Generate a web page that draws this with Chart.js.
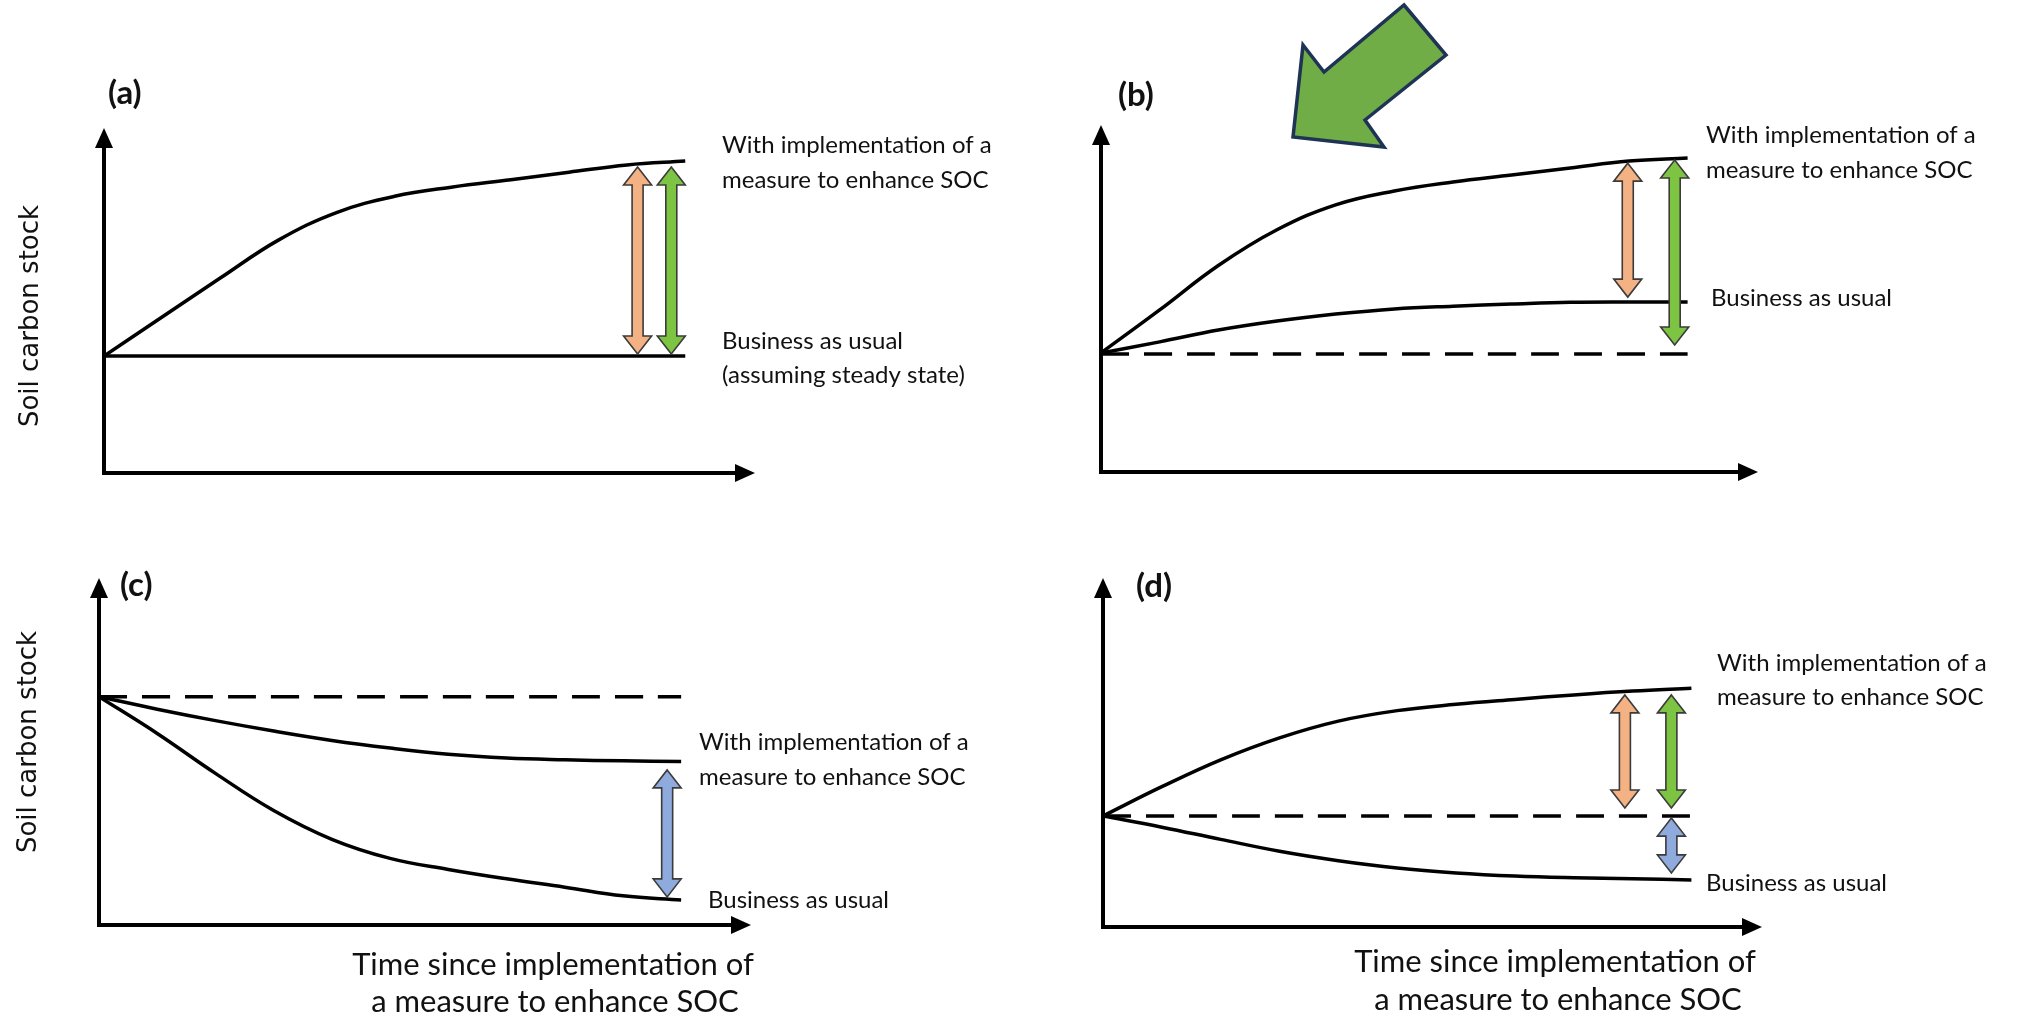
<!DOCTYPE html>
<html>
<head>
<meta charset="utf-8">
<title>Soil carbon stock scenarios</title>
<script src="https://cdn.jsdelivr.net/npm/chart.js@4.4.1/dist/chart.umd.min.js"></script>
<style>
  body { margin: 0; background: #fff; }
  #wrap { position: relative; width: 2033px; height: 1019px; }
  #wrap canvas { position: absolute; left: 0; top: 0; }
</style>
</head>
<body>
<div id="wrap">
  <canvas id="panelA" width="2033" height="1019"></canvas>
  <canvas id="panelB" width="2033" height="1019"></canvas>
  <canvas id="panelC" width="2033" height="1019"></canvas>
  <canvas id="panelD" width="2033" height="1019"></canvas>
</div>
<script>
// time since implementation (arbitrary units), shared by all panels
const timeSteps = [0, 1, 2, 3, 4, 5, 6, 7, 8, 9, 10];

// (a) steady state
const aWithMeasure = [3.39, 4.52, 5.65, 6.75, 7.55, 8.02, 8.29, 8.50, 8.72, 8.93, 9.04];
const aBusiness    = [3.39, 3.39, 3.39, 3.39, 3.39, 3.39, 3.39, 3.39, 3.39, 3.39, 3.39];

// (b) gaining soil
const bWithMeasure = [3.43, 4.67, 5.95, 6.98, 7.70, 8.10, 8.36, 8.56, 8.76, 8.96, 9.05];
const bBusiness    = [3.43, 3.75, 4.09, 4.35, 4.55, 4.70, 4.78, 4.84, 4.89, 4.90, 4.90];
const bInitial     = [3.40, 3.40, 3.40, 3.40, 3.40, 3.40, 3.40, 3.40, 3.40, 3.40, 3.40];

// (c) losing soil, measure slows the loss
const cWithMeasure = [6.58, 6.22, 5.89, 5.59, 5.32, 5.10, 4.92, 4.81, 4.76, 4.73, 4.71];
const cBusiness    = [6.58, 5.52, 4.37, 3.30, 2.47, 1.92, 1.60, 1.33, 1.09, 0.84, 0.72];
const cInitial     = [6.58, 6.58, 6.58, 6.58, 6.58, 6.58, 6.58, 6.58, 6.58, 6.58, 6.58];

// (d) losing soil, measure turns it into a gain
const dWithMeasure = [3.18, 4.02, 4.79, 5.42, 5.90, 6.20, 6.38, 6.52, 6.65, 6.76, 6.84];
const dBusiness    = [3.18, 2.86, 2.51, 2.17, 1.90, 1.69, 1.55, 1.46, 1.41, 1.38, 1.35];
const dInitial     = [3.18, 3.18, 3.18, 3.18, 3.18, 3.18, 3.18, 3.18, 3.18, 3.18, 3.18];

// double arrows: [time, upper value, lower value]
const aArrows = [[9.18, 8.87, 3.45], [9.76, 8.87, 3.45]];
const bArrows = [[8.98, 8.90, 5.04], [9.78, 8.99, 3.66]];
const cArrows = [[9.76, 4.47, 0.81]];
const dArrows = [[8.87, 6.65, 3.41], [9.66, 6.65, 3.41], [9.66, 3.12, 1.55]];

const ORANGE = "#F4B183";
const GREEN = "#7DC443";
const BLUE = "#8FAADC";

const labelFont = "24px Lato";
const titleFont = "31px Lato";
const yTitleFont = "26px DejaVu Sans";
const panelFont = "bold 33px Lato";

function drawDoubleArrow(ctx, x, yTop, yBot, fill) {
  const hw = 14, sw = 5.5, hl = 18;
  ctx.save();
  ctx.beginPath();
  ctx.moveTo(x, yTop);
  ctx.lineTo(x + hw, yTop + hl);
  ctx.lineTo(x + sw, yTop + hl);
  ctx.lineTo(x + sw, yBot - hl);
  ctx.lineTo(x + hw, yBot - hl);
  ctx.lineTo(x, yBot);
  ctx.lineTo(x - hw, yBot - hl);
  ctx.lineTo(x - sw, yBot - hl);
  ctx.lineTo(x - sw, yTop + hl);
  ctx.lineTo(x - hw, yTop + hl);
  ctx.closePath();
  ctx.fillStyle = fill;
  ctx.fill();
  ctx.lineWidth = 1.6;
  ctx.strokeStyle = "#3b3b3b";
  ctx.stroke();
  ctx.restore();
}

const decorPlugin = {
  id: "decor",
  beforeDatasetsDraw(chart, args, opts) {
    const { ctx, chartArea: a } = chart;
    ctx.save();
    ctx.strokeStyle = "#000";
    ctx.fillStyle = "#000";
    ctx.lineWidth = 4;
    // y axis
    ctx.beginPath();
    ctx.moveTo(a.left, a.bottom + 2);
    ctx.lineTo(a.left, a.top + 18);
    ctx.stroke();
    ctx.beginPath();
    ctx.moveTo(a.left, a.top);
    ctx.lineTo(a.left + 9, a.top + 20);
    ctx.lineTo(a.left - 9, a.top + 20);
    ctx.closePath();
    ctx.fill();
    // x axis
    ctx.beginPath();
    ctx.moveTo(a.left - 2, a.bottom);
    ctx.lineTo(a.right - 18, a.bottom);
    ctx.stroke();
    ctx.beginPath();
    ctx.moveTo(a.right, a.bottom);
    ctx.lineTo(a.right - 20, a.bottom - 9);
    ctx.lineTo(a.right - 20, a.bottom + 9);
    ctx.closePath();
    ctx.fill();
    ctx.restore();
  },
  afterDatasetsDraw(chart, args, opts) {
    const { ctx } = chart;
    const xs = chart.scales.x, ys = chart.scales.y;
    (opts.arrows || []).forEach((ar, i) => {
      drawDoubleArrow(ctx, xs.getPixelForValue(ar[0]), ys.getPixelForValue(ar[1]),
        ys.getPixelForValue(ar[2]), opts.arrowColors[i]);
    });
    ctx.save();
    ctx.fillStyle = "#111";
    ctx.textBaseline = "middle";
    (opts.texts || []).forEach(t => {
      ctx.font = t.font || labelFont;
      ctx.textAlign = t.align || "left";
      if (t.rotate) {
        ctx.save();
        ctx.translate(t.x, t.y);
        ctx.rotate(-Math.PI / 2);
        ctx.textAlign = "center";
        ctx.fillText(t.text, 0, 0);
        ctx.restore();
      } else {
        ctx.fillText(t.text, t.x, t.y);
      }
    });
    ctx.restore();
    if (opts.bigArrow) {
      ctx.save();
      ctx.beginPath();
      opts.bigArrow.forEach((p, i) => i ? ctx.lineTo(p[0], p[1]) : ctx.moveTo(p[0], p[1]));
      ctx.closePath();
      ctx.fillStyle = "#70AD47";
      ctx.fill();
      ctx.lineWidth = 3.5;
      ctx.strokeStyle = "#1F3455";
      ctx.stroke();
      ctx.restore();
    }
  }
};

function line(values, dashed) {
  return {
    data: values.map((v, i) => ({ x: timeSteps[i], y: v })),
    borderColor: "#000",
    borderWidth: 3.5,
    borderDash: dashed ? [28, 15] : [],
    pointRadius: 0,
    tension: 0.4,
    fill: false
  };
}

function makePanel(id, datasets, padding, decor) {
  return new Chart(document.getElementById(id), {
    type: "line",
    data: { datasets: datasets },
    options: {
      responsive: false,
      animation: false,
      events: [],
      layout: { padding: padding },
      scales: {
        x: { type: "linear", min: 0, max: 11.2, display: false },
        y: { type: "linear", min: 0, max: 10, display: false }
      },
      plugins: {
        legend: { display: false },
        tooltip: { enabled: false },
        decor: decor
      }
    },
    plugins: [decorPlugin]
  });
}

makePanel("panelA",
  [line(aWithMeasure), line(aBusiness)],
  { left: 104, right: 1278, top: 128, bottom: 546 },
  {
    arrows: aArrows, arrowColors: [ORANGE, GREEN],
    texts: [
      { text: "(a)", x: 108, y: 93, font: panelFont },
      { text: "With implementation of a", x: 722, y: 145 },
      { text: "measure to enhance SOC", x: 722, y: 180 },
      { text: "Business as usual", x: 722, y: 341 },
      { text: "(assuming steady state)", x: 722, y: 375 },
      { text: "Soil carbon stock", x: 31, y: 316, font: yTitleFont, rotate: true }
    ]
  });

makePanel("panelB",
  [line(bWithMeasure), line(bBusiness), line(bInitial, true)],
  { left: 1101, right: 275, top: 125, bottom: 547 },
  {
    arrows: bArrows, arrowColors: [ORANGE, GREEN],
    texts: [
      { text: "(b)", x: 1118, y: 95, font: panelFont },
      { text: "With implementation of a", x: 1706, y: 135 },
      { text: "measure to enhance SOC", x: 1706, y: 170 },
      { text: "Business as usual", x: 1711, y: 298 }
    ],
    bigArrow: [[1404, 5], [1446, 55], [1365, 120], [1384, 147], [1293, 137], [1303, 45], [1324, 72]]
  });

makePanel("panelC",
  [line(cWithMeasure), line(cBusiness), line(cInitial, true)],
  { left: 99, right: 1282, top: 578, bottom: 94 },
  {
    arrows: cArrows, arrowColors: [BLUE],
    texts: [
      { text: "(c)", x: 120, y: 585, font: panelFont },
      { text: "With implementation of a", x: 699, y: 742 },
      { text: "measure to enhance SOC", x: 699, y: 777 },
      { text: "Business as usual", x: 708, y: 900 },
      { text: "Soil carbon stock", x: 29, y: 742, font: yTitleFont, rotate: true },
      { text: "Time since implementation of", x: 553, y: 965, font: titleFont, align: "center" },
      { text: "a measure to enhance SOC", x: 555, y: 1002, font: titleFont, align: "center" }
    ]
  });

makePanel("panelD",
  [line(dWithMeasure), line(dBusiness), line(dInitial, true)],
  { left: 1103, right: 271, top: 578, bottom: 92 },
  {
    arrows: dArrows, arrowColors: [ORANGE, GREEN, BLUE],
    texts: [
      { text: "(d)", x: 1136, y: 586, font: panelFont },
      { text: "With implementation of a", x: 1717, y: 663 },
      { text: "measure to enhance SOC", x: 1717, y: 697 },
      { text: "Business as usual", x: 1706, y: 883 },
      { text: "Time since implementation of", x: 1555, y: 962, font: titleFont, align: "center" },
      { text: "a measure to enhance SOC", x: 1558, y: 1000, font: titleFont, align: "center" }
    ]
  });
</script>
</body>
</html>
